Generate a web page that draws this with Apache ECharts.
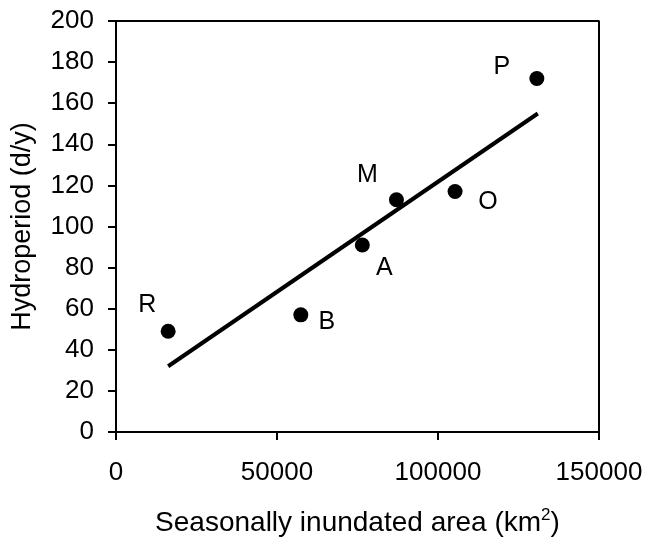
<!DOCTYPE html>
<html>
<head>
  <meta charset="utf-8" />
  <title>Hydroperiod</title>
  <script src="https://cdn.jsdelivr.net/npm/echarts@6/dist/echarts.min.js"></script>
  <style>
    html, body { margin: 0; padding: 0; background: #fff; }
    #main { width: 647px; height: 537px; }
  </style>
</head>
<body>
  <div id="main"></div>
  <script>
    // wetland sites
    var siteNames = ['R', 'B', 'A', 'M', 'O', 'P'];
    var areaKm2 = [16200, 57400, 76500, 87100, 105300, 130700];
    var hydroperiod = [49, 57, 91, 113, 117, 172];

    // fitted line end points
    var fitArea = [16200, 131000];
    var fitHydro = [32, 155];

    var xTicks = { min: 0, max: 150000, interval: 50000 };
    var yTicks = { min: 0, max: 200, interval: 20 };

    // where each letter sits relative to its dot (px)
    var labelOffset = {
      R: [-21, -26], B: [26, 7], A: [22, 23],
      M: [-29, -25], O: [33, 11], P: [-35, -11]
    };

    var font = 'Liberation Sans, Arial, sans-serif';

    var points = siteNames.map(function (n, i) {
      return {
        name: n,
        value: [areaKm2[i], hydroperiod[i]],
        label: { offset: labelOffset[n] }
      };
    });

    var fitLine = fitArea.map(function (x, i) { return [x, fitHydro[i]]; });

    var chart = echarts.init(document.getElementById('main'));
    chart.setOption({
      animation: false,
      grid: {
        left: 116, top: 21, right: 48, bottom: 105,
        containLabel: false,
        outerBoundsMode: 'none'
      },
      xAxis: {
        type: 'value',
        min: xTicks.min, max: xTicks.max, interval: xTicks.interval,
        name: '{t|Seasonally inundated area (km}{s|2}{t|)}',
        nameLocation: 'middle',
        nameGap: 75,
        nameTextStyle: {
          rich: {
            t: { fontFamily: font, fontSize: 28, color: '#000', lineHeight: 32 },
            s: { fontFamily: font, fontSize: 17, color: '#000', lineHeight: 32, verticalAlign: 'top', padding: [0, 0, 18, 0] }
          }
        },
        axisLine: { show: true, lineStyle: { color: '#000', width: 2 } },
        axisTick: { show: true, inside: false, length: 8, lineStyle: { color: '#000', width: 2 } },
        axisLabel: {
          fontFamily: font, fontSize: 26, color: '#000', margin: 28,
          formatter: function (v) { return String(v); }
        },
        splitLine: { show: false }
      },
      yAxis: {
        type: 'value',
        min: yTicks.min, max: yTicks.max, interval: yTicks.interval,
        name: 'Hydroperiod (d/y)',
        nameLocation: 'middle',
        nameGap: 80,
        nameTextStyle: { fontFamily: font, fontSize: 27, color: '#000' },
        axisLine: { show: true, lineStyle: { color: '#000', width: 2 } },
        axisTick: { show: true, inside: false, length: 8, lineStyle: { color: '#000', width: 2 } },
        axisLabel: { fontFamily: font, fontSize: 26, color: '#000', margin: 22 },
        splitLine: { show: false }
      },
      series: [
        {
          type: 'line',
          data: fitLine,
          symbol: 'none',
          lineStyle: { color: '#000', width: 4 },
          z: 2
        },
        {
          type: 'scatter',
          data: points,
          symbol: 'circle',
          symbolSize: 15,
          itemStyle: { color: '#000', opacity: 1 },
          label: {
            show: true,
            position: 'inside',
            formatter: '{b}',
            fontFamily: font,
            fontSize: 25,
            color: '#000',
            opacity: 1
          },
          z: 3
        },
        {
          // box frame on top and right
          type: 'line',
          data: [[xTicks.min, yTicks.max], [xTicks.max, yTicks.max], [xTicks.max, yTicks.min]],
          symbol: 'none',
          lineStyle: { color: '#000', width: 2 },
          silent: true,
          z: 1
        }
      ]
    });
  </script>
</body>
</html>
